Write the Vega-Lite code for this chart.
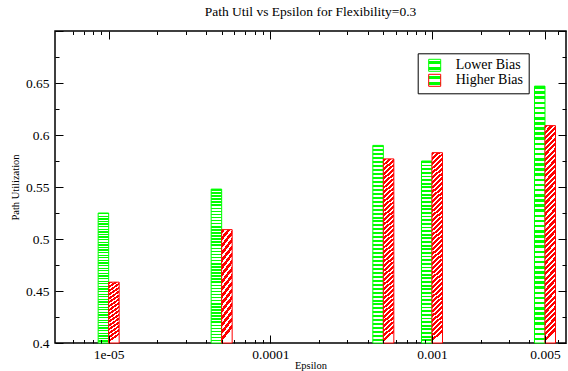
{
"$schema": "https://vega.github.io/schema/vega-lite/v6.json",
"width": 511, "height": 312,
"autosize": "none",
"padding": {"left": 55, "top": 31, "right": 2, "bottom": 28},
"background": "white",
"title": {"text": "Path Util vs Epsilon for Flexibility=0.3", "font": "Liberation Serif", "fontSize": 13.5, "fontWeight": "normal", "color": "black", "anchor": "middle", "frame": "group", "baseline": "alphabetic", "offset": 12, "dy": 17},
"params": [
{"name": "gG", "value": {"gradient": "linear", "x1": 0, "y1": 0, "x2": 0, "y2": 1, "stops": [
{"offset":0,"color":"#0f0"},{"offset":0.01,"color":"#0f0"},{"offset":0.01,"color":"#fff"},{"offset":0.02,"color":"#fff"},
{"offset":0.02,"color":"#0f0"},{"offset":0.03,"color":"#0f0"},{"offset":0.03,"color":"#fff"},{"offset":0.04,"color":"#fff"},
{"offset":0.04,"color":"#0f0"},{"offset":0.05,"color":"#0f0"},{"offset":0.05,"color":"#fff"},{"offset":0.06,"color":"#fff"},
{"offset":0.06,"color":"#0f0"},{"offset":0.07,"color":"#0f0"},{"offset":0.07,"color":"#fff"},{"offset":0.08,"color":"#fff"},
{"offset":0.08,"color":"#0f0"},{"offset":0.09,"color":"#0f0"},{"offset":0.09,"color":"#fff"},{"offset":0.1,"color":"#fff"},
{"offset":0.1,"color":"#0f0"},{"offset":0.11,"color":"#0f0"},{"offset":0.11,"color":"#fff"},{"offset":0.12,"color":"#fff"},
{"offset":0.12,"color":"#0f0"},{"offset":0.13,"color":"#0f0"},{"offset":0.13,"color":"#fff"},{"offset":0.14,"color":"#fff"},
{"offset":0.14,"color":"#0f0"},{"offset":0.15,"color":"#0f0"},{"offset":0.15,"color":"#fff"},{"offset":0.16,"color":"#fff"},
{"offset":0.16,"color":"#0f0"},{"offset":0.17,"color":"#0f0"},{"offset":0.17,"color":"#fff"},{"offset":0.18,"color":"#fff"},
{"offset":0.18,"color":"#0f0"},{"offset":0.19,"color":"#0f0"},{"offset":0.19,"color":"#fff"},{"offset":0.2,"color":"#fff"},
{"offset":0.2,"color":"#0f0"},{"offset":0.21,"color":"#0f0"},{"offset":0.21,"color":"#fff"},{"offset":0.22,"color":"#fff"},
{"offset":0.22,"color":"#0f0"},{"offset":0.23,"color":"#0f0"},{"offset":0.23,"color":"#fff"},{"offset":0.24,"color":"#fff"},
{"offset":0.24,"color":"#0f0"},{"offset":0.25,"color":"#0f0"},{"offset":0.25,"color":"#fff"},{"offset":0.26,"color":"#fff"},
{"offset":0.26,"color":"#0f0"},{"offset":0.27,"color":"#0f0"},{"offset":0.27,"color":"#fff"},{"offset":0.28,"color":"#fff"},
{"offset":0.28,"color":"#0f0"},{"offset":0.29,"color":"#0f0"},{"offset":0.29,"color":"#fff"},{"offset":0.3,"color":"#fff"},
{"offset":0.3,"color":"#0f0"},{"offset":0.31,"color":"#0f0"},{"offset":0.31,"color":"#fff"},{"offset":0.32,"color":"#fff"},
{"offset":0.32,"color":"#0f0"},{"offset":0.33,"color":"#0f0"},{"offset":0.33,"color":"#fff"},{"offset":0.34,"color":"#fff"},
{"offset":0.34,"color":"#0f0"},{"offset":0.35,"color":"#0f0"},{"offset":0.35,"color":"#fff"},{"offset":0.36,"color":"#fff"},
{"offset":0.36,"color":"#0f0"},{"offset":0.37,"color":"#0f0"},{"offset":0.37,"color":"#fff"},{"offset":0.38,"color":"#fff"},
{"offset":0.38,"color":"#0f0"},{"offset":0.39,"color":"#0f0"},{"offset":0.39,"color":"#fff"},{"offset":0.4,"color":"#fff"},
{"offset":0.4,"color":"#0f0"},{"offset":0.41,"color":"#0f0"},{"offset":0.41,"color":"#fff"},{"offset":0.42,"color":"#fff"},
{"offset":0.42,"color":"#0f0"},{"offset":0.43,"color":"#0f0"},{"offset":0.43,"color":"#fff"},{"offset":0.44,"color":"#fff"},
{"offset":0.44,"color":"#0f0"},{"offset":0.45,"color":"#0f0"},{"offset":0.45,"color":"#fff"},{"offset":0.46,"color":"#fff"},
{"offset":0.46,"color":"#0f0"},{"offset":0.47,"color":"#0f0"},{"offset":0.47,"color":"#fff"},{"offset":0.48,"color":"#fff"},
{"offset":0.48,"color":"#0f0"},{"offset":0.49,"color":"#0f0"},{"offset":0.49,"color":"#fff"},{"offset":0.5,"color":"#fff"},
{"offset":0.5,"color":"#0f0"},{"offset":0.51,"color":"#0f0"},{"offset":0.51,"color":"#fff"},{"offset":0.52,"color":"#fff"},
{"offset":0.52,"color":"#0f0"},{"offset":0.53,"color":"#0f0"},{"offset":0.53,"color":"#fff"},{"offset":0.54,"color":"#fff"},
{"offset":0.54,"color":"#0f0"},{"offset":0.55,"color":"#0f0"},{"offset":0.55,"color":"#fff"},{"offset":0.56,"color":"#fff"},
{"offset":0.56,"color":"#0f0"},{"offset":0.57,"color":"#0f0"},{"offset":0.57,"color":"#fff"},{"offset":0.58,"color":"#fff"},
{"offset":0.58,"color":"#0f0"},{"offset":0.59,"color":"#0f0"},{"offset":0.59,"color":"#fff"},{"offset":0.6,"color":"#fff"},
{"offset":0.6,"color":"#0f0"},{"offset":0.61,"color":"#0f0"},{"offset":0.61,"color":"#fff"},{"offset":0.62,"color":"#fff"},
{"offset":0.62,"color":"#0f0"},{"offset":0.63,"color":"#0f0"},{"offset":0.63,"color":"#fff"},{"offset":0.64,"color":"#fff"},
{"offset":0.64,"color":"#0f0"},{"offset":0.65,"color":"#0f0"},{"offset":0.65,"color":"#fff"},{"offset":0.66,"color":"#fff"},
{"offset":0.66,"color":"#0f0"},{"offset":0.67,"color":"#0f0"},{"offset":0.67,"color":"#fff"},{"offset":0.68,"color":"#fff"},
{"offset":0.68,"color":"#0f0"},{"offset":0.69,"color":"#0f0"},{"offset":0.69,"color":"#fff"},{"offset":0.7,"color":"#fff"},
{"offset":0.7,"color":"#0f0"},{"offset":0.71,"color":"#0f0"},{"offset":0.71,"color":"#fff"},{"offset":0.72,"color":"#fff"},
{"offset":0.72,"color":"#0f0"},{"offset":0.73,"color":"#0f0"},{"offset":0.73,"color":"#fff"},{"offset":0.74,"color":"#fff"},
{"offset":0.74,"color":"#0f0"},{"offset":0.75,"color":"#0f0"},{"offset":0.75,"color":"#fff"},{"offset":0.76,"color":"#fff"},
{"offset":0.76,"color":"#0f0"},{"offset":0.77,"color":"#0f0"},{"offset":0.77,"color":"#fff"},{"offset":0.78,"color":"#fff"},
{"offset":0.78,"color":"#0f0"},{"offset":0.79,"color":"#0f0"},{"offset":0.79,"color":"#fff"},{"offset":0.8,"color":"#fff"},
{"offset":0.8,"color":"#0f0"},{"offset":0.81,"color":"#0f0"},{"offset":0.81,"color":"#fff"},{"offset":0.82,"color":"#fff"},
{"offset":0.82,"color":"#0f0"},{"offset":0.83,"color":"#0f0"},{"offset":0.83,"color":"#fff"},{"offset":0.84,"color":"#fff"},
{"offset":0.84,"color":"#0f0"},{"offset":0.85,"color":"#0f0"},{"offset":0.85,"color":"#fff"},{"offset":0.86,"color":"#fff"},
{"offset":0.86,"color":"#0f0"},{"offset":0.87,"color":"#0f0"},{"offset":0.87,"color":"#fff"},{"offset":0.88,"color":"#fff"},
{"offset":0.88,"color":"#0f0"},{"offset":0.89,"color":"#0f0"},{"offset":0.89,"color":"#fff"},{"offset":0.9,"color":"#fff"},
{"offset":0.9,"color":"#0f0"},{"offset":0.91,"color":"#0f0"},{"offset":0.91,"color":"#fff"},{"offset":0.92,"color":"#fff"},
{"offset":0.92,"color":"#0f0"},{"offset":0.93,"color":"#0f0"},{"offset":0.93,"color":"#fff"},{"offset":0.94,"color":"#fff"},
{"offset":0.94,"color":"#0f0"},{"offset":0.95,"color":"#0f0"},{"offset":0.95,"color":"#fff"},{"offset":0.96,"color":"#fff"},
{"offset":0.96,"color":"#0f0"},{"offset":0.97,"color":"#0f0"},{"offset":0.97,"color":"#fff"},{"offset":0.98,"color":"#fff"},
{"offset":0.98,"color":"#0f0"},{"offset":0.99,"color":"#0f0"},{"offset":0.99,"color":"#fff"},{"offset":1,"color":"#fff"}
]}},
{"name": "rS", "value": {"gradient": "linear", "x1": 0, "y1": 0, "x2": 0.12, "y2": 1, "stops": [
{"offset":0,"color":"#f00"},{"offset":0.0375,"color":"#f00"},{"offset":0.0375,"color":"#fff"},{"offset":0.0625,"color":"#fff"},
{"offset":0.0625,"color":"#f00"},{"offset":0.1,"color":"#f00"},{"offset":0.1,"color":"#fff"},{"offset":0.125,"color":"#fff"},
{"offset":0.125,"color":"#f00"},{"offset":0.1625,"color":"#f00"},{"offset":0.1625,"color":"#fff"},{"offset":0.1875,"color":"#fff"},
{"offset":0.1875,"color":"#f00"},{"offset":0.225,"color":"#f00"},{"offset":0.225,"color":"#fff"},{"offset":0.25,"color":"#fff"},
{"offset":0.25,"color":"#f00"},{"offset":0.2875,"color":"#f00"},{"offset":0.2875,"color":"#fff"},{"offset":0.3125,"color":"#fff"},
{"offset":0.3125,"color":"#f00"},{"offset":0.35,"color":"#f00"},{"offset":0.35,"color":"#fff"},{"offset":0.375,"color":"#fff"},
{"offset":0.375,"color":"#f00"},{"offset":0.4125,"color":"#f00"},{"offset":0.4125,"color":"#fff"},{"offset":0.4375,"color":"#fff"},
{"offset":0.4375,"color":"#f00"},{"offset":0.475,"color":"#f00"},{"offset":0.475,"color":"#fff"},{"offset":0.5,"color":"#fff"},
{"offset":0.5,"color":"#f00"},{"offset":0.5375,"color":"#f00"},{"offset":0.5375,"color":"#fff"},{"offset":0.5625,"color":"#fff"},
{"offset":0.5625,"color":"#f00"},{"offset":0.6,"color":"#f00"},{"offset":0.6,"color":"#fff"},{"offset":0.625,"color":"#fff"},
{"offset":0.625,"color":"#f00"},{"offset":0.6625,"color":"#f00"},{"offset":0.6625,"color":"#fff"},{"offset":0.6875,"color":"#fff"},
{"offset":0.6875,"color":"#f00"},{"offset":0.725,"color":"#f00"},{"offset":0.725,"color":"#fff"},{"offset":0.75,"color":"#fff"},
{"offset":0.75,"color":"#f00"},{"offset":0.7875,"color":"#f00"},{"offset":0.7875,"color":"#fff"},{"offset":0.8125,"color":"#fff"},
{"offset":0.8125,"color":"#f00"},{"offset":0.85,"color":"#f00"},{"offset":0.85,"color":"#fff"},{"offset":0.875,"color":"#fff"},
{"offset":0.875,"color":"#f00"},{"offset":0.9125,"color":"#f00"},{"offset":0.9125,"color":"#fff"},{"offset":0.9375,"color":"#fff"},
{"offset":0.9375,"color":"#f00"},{"offset":0.975,"color":"#f00"},{"offset":0.975,"color":"#fff"},{"offset":1,"color":"#fff"}
]}},
{"name": "rT", "value": {"gradient": "linear", "x1": 0, "y1": 0, "x2": 0.05, "y2": 1, "stops": [
{"offset":0,"color":"#f00"},{"offset":0.015,"color":"#f00"},{"offset":0.015,"color":"#fff"},{"offset":0.025,"color":"#fff"},
{"offset":0.025,"color":"#f00"},{"offset":0.04,"color":"#f00"},{"offset":0.04,"color":"#fff"},{"offset":0.05,"color":"#fff"},
{"offset":0.05,"color":"#f00"},{"offset":0.065,"color":"#f00"},{"offset":0.065,"color":"#fff"},{"offset":0.075,"color":"#fff"},
{"offset":0.075,"color":"#f00"},{"offset":0.09,"color":"#f00"},{"offset":0.09,"color":"#fff"},{"offset":0.1,"color":"#fff"},
{"offset":0.1,"color":"#f00"},{"offset":0.115,"color":"#f00"},{"offset":0.115,"color":"#fff"},{"offset":0.125,"color":"#fff"},
{"offset":0.125,"color":"#f00"},{"offset":0.14,"color":"#f00"},{"offset":0.14,"color":"#fff"},{"offset":0.15,"color":"#fff"},
{"offset":0.15,"color":"#f00"},{"offset":0.165,"color":"#f00"},{"offset":0.165,"color":"#fff"},{"offset":0.175,"color":"#fff"},
{"offset":0.175,"color":"#f00"},{"offset":0.19,"color":"#f00"},{"offset":0.19,"color":"#fff"},{"offset":0.2,"color":"#fff"},
{"offset":0.2,"color":"#f00"},{"offset":0.215,"color":"#f00"},{"offset":0.215,"color":"#fff"},{"offset":0.225,"color":"#fff"},
{"offset":0.225,"color":"#f00"},{"offset":0.24,"color":"#f00"},{"offset":0.24,"color":"#fff"},{"offset":0.25,"color":"#fff"},
{"offset":0.25,"color":"#f00"},{"offset":0.265,"color":"#f00"},{"offset":0.265,"color":"#fff"},{"offset":0.275,"color":"#fff"},
{"offset":0.275,"color":"#f00"},{"offset":0.29,"color":"#f00"},{"offset":0.29,"color":"#fff"},{"offset":0.3,"color":"#fff"},
{"offset":0.3,"color":"#f00"},{"offset":0.315,"color":"#f00"},{"offset":0.315,"color":"#fff"},{"offset":0.325,"color":"#fff"},
{"offset":0.325,"color":"#f00"},{"offset":0.34,"color":"#f00"},{"offset":0.34,"color":"#fff"},{"offset":0.35,"color":"#fff"},
{"offset":0.35,"color":"#f00"},{"offset":0.365,"color":"#f00"},{"offset":0.365,"color":"#fff"},{"offset":0.375,"color":"#fff"},
{"offset":0.375,"color":"#f00"},{"offset":0.39,"color":"#f00"},{"offset":0.39,"color":"#fff"},{"offset":0.4,"color":"#fff"},
{"offset":0.4,"color":"#f00"},{"offset":0.415,"color":"#f00"},{"offset":0.415,"color":"#fff"},{"offset":0.425,"color":"#fff"},
{"offset":0.425,"color":"#f00"},{"offset":0.44,"color":"#f00"},{"offset":0.44,"color":"#fff"},{"offset":0.45,"color":"#fff"},
{"offset":0.45,"color":"#f00"},{"offset":0.465,"color":"#f00"},{"offset":0.465,"color":"#fff"},{"offset":0.475,"color":"#fff"},
{"offset":0.475,"color":"#f00"},{"offset":0.49,"color":"#f00"},{"offset":0.49,"color":"#fff"},{"offset":0.5,"color":"#fff"},
{"offset":0.5,"color":"#f00"},{"offset":0.515,"color":"#f00"},{"offset":0.515,"color":"#fff"},{"offset":0.525,"color":"#fff"},
{"offset":0.525,"color":"#f00"},{"offset":0.54,"color":"#f00"},{"offset":0.54,"color":"#fff"},{"offset":0.55,"color":"#fff"},
{"offset":0.55,"color":"#f00"},{"offset":0.565,"color":"#f00"},{"offset":0.565,"color":"#fff"},{"offset":0.575,"color":"#fff"},
{"offset":0.575,"color":"#f00"},{"offset":0.59,"color":"#f00"},{"offset":0.59,"color":"#fff"},{"offset":0.6,"color":"#fff"},
{"offset":0.6,"color":"#f00"},{"offset":0.615,"color":"#f00"},{"offset":0.615,"color":"#fff"},{"offset":0.625,"color":"#fff"},
{"offset":0.625,"color":"#f00"},{"offset":0.64,"color":"#f00"},{"offset":0.64,"color":"#fff"},{"offset":0.65,"color":"#fff"},
{"offset":0.65,"color":"#f00"},{"offset":0.665,"color":"#f00"},{"offset":0.665,"color":"#fff"},{"offset":0.675,"color":"#fff"},
{"offset":0.675,"color":"#f00"},{"offset":0.69,"color":"#f00"},{"offset":0.69,"color":"#fff"},{"offset":0.7,"color":"#fff"},
{"offset":0.7,"color":"#f00"},{"offset":0.715,"color":"#f00"},{"offset":0.715,"color":"#fff"},{"offset":0.725,"color":"#fff"},
{"offset":0.725,"color":"#f00"},{"offset":0.74,"color":"#f00"},{"offset":0.74,"color":"#fff"},{"offset":0.75,"color":"#fff"},
{"offset":0.75,"color":"#f00"},{"offset":0.765,"color":"#f00"},{"offset":0.765,"color":"#fff"},{"offset":0.775,"color":"#fff"},
{"offset":0.775,"color":"#f00"},{"offset":0.79,"color":"#f00"},{"offset":0.79,"color":"#fff"},{"offset":0.8,"color":"#fff"},
{"offset":0.8,"color":"#f00"},{"offset":0.815,"color":"#f00"},{"offset":0.815,"color":"#fff"},{"offset":0.825,"color":"#fff"},
{"offset":0.825,"color":"#f00"},{"offset":0.84,"color":"#f00"},{"offset":0.84,"color":"#fff"},{"offset":0.85,"color":"#fff"},
{"offset":0.85,"color":"#f00"},{"offset":0.865,"color":"#f00"},{"offset":0.865,"color":"#fff"},{"offset":0.875,"color":"#fff"},
{"offset":0.875,"color":"#f00"},{"offset":0.89,"color":"#f00"},{"offset":0.89,"color":"#fff"},{"offset":0.9,"color":"#fff"},
{"offset":0.9,"color":"#f00"},{"offset":0.915,"color":"#f00"},{"offset":0.915,"color":"#fff"},{"offset":0.925,"color":"#fff"},
{"offset":0.925,"color":"#f00"},{"offset":0.94,"color":"#f00"},{"offset":0.94,"color":"#fff"},{"offset":0.95,"color":"#fff"},
{"offset":0.95,"color":"#f00"},{"offset":0.965,"color":"#f00"},{"offset":0.965,"color":"#fff"},{"offset":0.975,"color":"#fff"},
{"offset":0.975,"color":"#f00"},{"offset":0.99,"color":"#f00"},{"offset":0.99,"color":"#fff"},{"offset":1,"color":"#fff"}
]}},
{"name": "gL", "value": {"gradient": "linear", "x1": 0, "y1": 0, "x2": 0, "y2": 1, "stops": [
{"offset":0,"color":"#0f0"},{"offset":0.17,"color":"#0f0"},{"offset":0.17,"color":"#fff"},{"offset":0.33,"color":"#fff"},
{"offset":0.33,"color":"#0f0"},{"offset":0.5,"color":"#0f0"},{"offset":0.5,"color":"#fff"},{"offset":0.67,"color":"#fff"},
{"offset":0.67,"color":"#0f0"},{"offset":0.83,"color":"#0f0"},{"offset":0.83,"color":"#fff"},{"offset":1,"color":"#0f0"}
]}},
{"name": "rL", "value": {"gradient": "linear", "x1": 0, "y1": 0, "x2": 1, "y2": 1, "stops": [
{"offset":0,"color":"#f00"},{"offset":0.15,"color":"#f00"},{"offset":0.15,"color":"#fff"},{"offset":0.25,"color":"#fff"},
{"offset":0.25,"color":"#f00"},{"offset":0.4,"color":"#f00"},{"offset":0.4,"color":"#fff"},{"offset":0.5,"color":"#fff"},
{"offset":0.5,"color":"#f00"},{"offset":0.65,"color":"#f00"},{"offset":0.65,"color":"#fff"},{"offset":0.75,"color":"#fff"},
{"offset":0.75,"color":"#f00"},{"offset":0.9,"color":"#f00"},{"offset":0.9,"color":"#fff"},{"offset":1,"color":"#fff"}
]}}
],
"data": {"values": [
{"eps": 0.00001, "series": "Lower Bias", "util": 0.525},
{"eps": 0.00005, "series": "Lower Bias", "util": 0.548},
{"eps": 0.0005, "series": "Lower Bias", "util": 0.590},
{"eps": 0.001, "series": "Lower Bias", "util": 0.575},
{"eps": 0.005, "series": "Lower Bias", "util": 0.647},
{"eps": 0.00001, "series": "Higher Bias", "util": 0.4585},
{"eps": 0.00005, "series": "Higher Bias", "util": 0.509},
{"eps": 0.0005, "series": "Higher Bias", "util": 0.577},
{"eps": 0.001, "series": "Higher Bias", "util": 0.583},
{"eps": 0.005, "series": "Higher Bias", "util": 0.609}
]},
"layer": [
{"transform": [{"filter": "datum.series === 'Lower Bias'"}],
 "mark": {"type": "bar", "width": 10.5, "xOffset": -5.25, "fill": {"expr": "gG"}, "fillOpacity": 1, "strokeWidth": 1},
 "encoding": {
  "x": {"field": "eps", "type": "quantitative", "scale": {"type": "log", "domain": [0.000005, 0.00628], "nice": false},
        "axis": {"orient": "bottom", "values": [0.00001, 0.0001, 0.001, 0.005], "labelExpr": "datum.value < 0.00002 ? '1e-05' : datum.value < 0.0002 ? '0.0001' : datum.value < 0.002 ? '0.001' : '0.005'", "tickSize": -8, "labelPadding": 12, "labelFont": "Liberation Serif", "labelFontSize": 13.5, "labelFlush": false, "labelOverlap": false, "title": "Epsilon", "titleFont": "Liberation Serif", "titleFontSize": 10.5, "titlePadding": 0, "zindex": 1,
                 "encode": {"labels": {"update": {"font": {"value": "Liberation Serif"}}}}}},
  "y": {"field": "util", "type": "quantitative", "scale": {"domain": [0.4, 0.7], "zero": false, "nice": false},
        "axis": {"orient": "left", "values": [0.4, 0.45, 0.5, 0.55, 0.6, 0.65, 0.7], "labelExpr": "datum.value > 0.69 ? '' : '' + round(datum.value * 100) / 100", "tickSize": -8, "labelPadding": 14, "labelFont": "Liberation Serif", "labelFontSize": 13.5, "labelFlush": false, "labelOverlap": false, "title": "Path Utilization", "titleFont": "Liberation Serif", "titleFontSize": 10.5, "titlePadding": 5, "zindex": 1,
                 "encode": {"labels": {"update": {"font": {"value": "Liberation Serif"}}}}}},
  "y2": {"datum": 0.4},
  "stroke": {"field": "series", "type": "nominal", "scale": {"domain": ["Lower Bias", "Higher Bias"], "range": ["#00ff00", "#ff0000"]},
        "legend": {"orient": "none", "legendX": 362.7, "legendY": 22.3, "title": null, "padding": 5, "symbolOffset": 5, "strokeColor": "black", "labelFont": "Liberation Serif", "labelFontSize": 14, "labelColor": "black", "labelOffset": 14, "labelLimit": 0, "symbolType": "square", "symbolSize": 144, "symbolStrokeWidth": 1, "rowPadding": -2,
          "encode": {"symbols": {"update": {"fill": {"signal": "datum.value === 'Lower Bias' ? gL : rL"}, "fillOpacity": {"value": 1}}}}}}
 }},
{"transform": [{"filter": "datum.series === 'Higher Bias'"}],
 "mark": {"type": "bar", "width": 10.5, "xOffset": 5.25, "fill": {"expr": "datum.util < 0.55 ? rS : rT"}, "fillOpacity": 1, "strokeWidth": 1},
 "encoding": {
  "x": {"field": "eps", "type": "quantitative",
        "axis": {"orient": "bottom", "values": [0.000006, 0.000007, 0.000008, 0.000009, 0.00002, 0.00003, 0.00004, 0.00005, 0.00006, 0.00007, 0.00008, 0.00009, 0.0002, 0.0003, 0.0004, 0.0005, 0.0006, 0.0007, 0.0008, 0.0009, 0.002, 0.003, 0.004, 0.006], "tickSize": -3.5, "labels": false, "title": null, "zindex": 1}},
  "y": {"field": "util", "type": "quantitative",
        "axis": {"orient": "left", "values": [0.425, 0.475, 0.525, 0.575, 0.625, 0.675], "tickSize": -4, "labels": false, "title": null, "zindex": 1}},
  "y2": {"datum": 0.4},
  "stroke": {"field": "series", "type": "nominal"}
 }},
{"mark": {"type": "point", "opacity": 0},
 "encoding": {
  "x": {"field": "eps", "type": "quantitative",
        "axis": {"orient": "top", "values": [0.00001, 0.0001, 0.001, 0.005], "tickSize": -8, "labels": false, "title": null, "zindex": 1}},
  "y": {"field": "util", "type": "quantitative",
        "axis": {"orient": "right", "values": [0.4, 0.45, 0.5, 0.55, 0.6, 0.65, 0.7], "tickSize": -8, "labels": false, "title": null, "zindex": 1}}
 }},
{"mark": {"type": "point", "opacity": 0},
 "encoding": {
  "x": {"field": "eps", "type": "quantitative",
        "axis": {"orient": "top", "values": [0.000006, 0.000007, 0.000008, 0.000009, 0.00002, 0.00003, 0.00004, 0.00005, 0.00006, 0.00007, 0.00008, 0.00009, 0.0002, 0.0003, 0.0004, 0.0005, 0.0006, 0.0007, 0.0008, 0.0009, 0.002, 0.003, 0.004, 0.006], "tickSize": -3.5, "labels": false, "title": null, "zindex": 1}},
  "y": {"field": "util", "type": "quantitative",
        "axis": {"orient": "right", "values": [0.425, 0.475, 0.525, 0.575, 0.625, 0.675], "tickSize": -4, "labels": false, "title": null, "zindex": 1}}
 }}
],
"resolve": {"axis": {"x": "independent", "y": "independent"}},
"config": {
  "font": "Liberation Serif",
  "view": {"stroke": "black", "strokeWidth": 1.5},
  "axis": {"domain": false, "grid": false, "tickColor": "black", "tickWidth": 1, "labelColor": "black", "titleColor": "black", "titleFontWeight": "normal", "labelFont": "Liberation Serif", "titleFont": "Liberation Serif"}
}
}
